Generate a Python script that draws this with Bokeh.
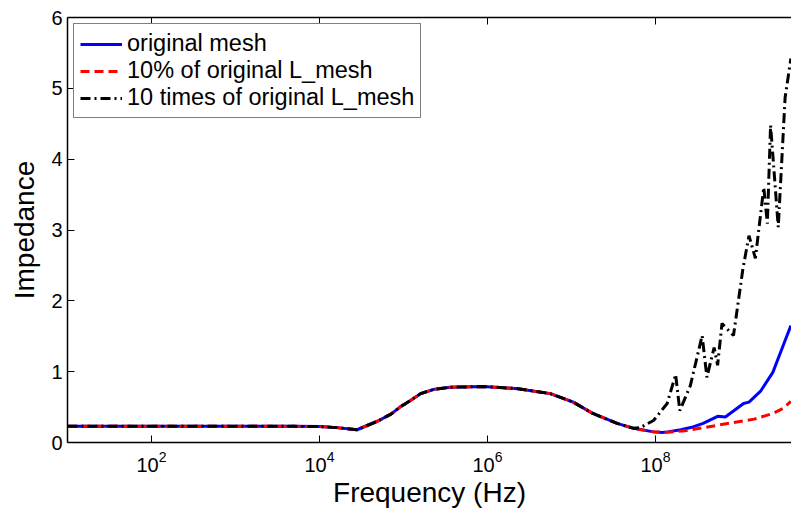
from bokeh.plotting import figure
from bokeh.models import FixedTicker, LogAxis, Range1d, Legend, LegendItem, ColumnDataSource
from bokeh.embed import file_html
from bokeh.resources import INLINE

# ---- data ----
# shared low/mid-frequency part of all three curves
freq_low = [10, 100, 1e3, 5e3, 1e4, 1.6e4, 2.8e4, 3.7e4, 4.9e4, 7.1e4, 9.1e4,
            1.2e5, 1.6e5, 2.3e5, 3.6e5, 8.9e5, 2.3e6, 5.6e6, 1.05e7, 1.8e7,
            3.5e7, 5.5e7]
z_low = [0.23, 0.23, 0.23, 0.228, 0.225, 0.21, 0.18, 0.24, 0.30, 0.40, 0.50,
         0.59, 0.69, 0.75, 0.78, 0.79, 0.76, 0.69, 0.57, 0.41,
         0.27, 0.20]

# high-frequency tails
freq_orig = [9.5e7, 1.2e8, 1.4e8, 2e8, 2.8e8, 3.7e8, 5.5e8, 6.8e8, 1.12e9, 1.3e9,
             1.8e9, 2.5e9, 3.5e9, 4.1e9]
z_orig = [0.15, 0.14, 0.15, 0.18, 0.22, 0.27, 0.37, 0.36, 0.55, 0.57,
          0.73, 0.99, 1.44, 1.65]

freq_10pct = [9.5e7, 1.4e8, 2.4e8, 5.9e8, 1.5e9, 2.5e9, 3.3e9, 4.1e9]
z_10pct = [0.15, 0.145, 0.17, 0.25, 0.33, 0.41, 0.48, 0.58]

freq_10x = [6.6e7, 9.5e7, 1.38e8, 1.74e8, 1.95e8, 2.6e8, 3.6e8, 4.1e8, 5.0e8,
            5.5e8, 6.2e8, 8.5e8, 1.1e9, 1.3e9, 1.55e9, 1.95e9, 2.15e9, 2.35e9,
            2.9e9, 3.5e9, 4.1e9]
z_10x = [0.21, 0.31, 0.55, 0.96, 0.45, 0.80, 1.51, 0.92, 1.34,
         1.09, 1.68, 1.51, 2.45, 2.92, 2.60, 3.60, 3.09, 4.48,
         3.04, 4.87, 5.42]

series_labels = ["original mesh", "10% of original L_mesh", "10 times of original L_mesh"]
x_ticks = [1e2, 1e4, 1e6, 1e8]
y_ticks = [0, 1, 2, 3, 4, 5, 6]

FONT = "Liberation Sans"

p = figure(width=791, height=512, x_axis_type="log",
           x_range=Range1d(10, 4.17e9), y_range=Range1d(0, 6),
           output_backend="svg", toolbar_location=None,
           min_border_left=67, min_border_right=0, min_border_top=17,
           min_border_bottom=70)
p.outline_line_color = None
p.xgrid.visible = False
p.ygrid.visible = False
p.background_fill_color = "white"
p.border_fill_color = "white"

src_o = ColumnDataSource(dict(f=freq_low + freq_orig, z=z_low + z_orig))
src_p = ColumnDataSource(dict(f=freq_low + freq_10pct, z=z_low + z_10pct))
src_x = ColumnDataSource(dict(f=freq_low + freq_10x, z=z_low + z_10x))

r_o = p.line("f", "z", source=src_o, line_color="#0000ff", line_width=3)
r_p = p.line("f", "z", source=src_p, line_color="#ff0000", line_width=3,
             line_dash="9 5")
r_x = p.line("f", "z", source=src_x, line_color="black", line_width=3,
             line_dash="10 4 2 4")

# bottom axis
xa = p.xaxis[0]
xa.ticker = FixedTicker(ticks=x_ticks)
xa.major_tick_in = 7
xa.major_tick_out = 0
xa.minor_tick_in = 0
xa.minor_tick_out = 0
xa.axis_line_width = 1.5
xa.major_tick_line_width = 1
xa.major_label_text_font = FONT
xa.major_label_text_font_size = "20px"
xa.major_label_text_color = "black"
xa.major_label_standoff = 8
xa.axis_label = "Frequency (Hz)"
xa.axis_label_text_font = FONT
xa.axis_label_text_font_size = "28px"
xa.axis_label_text_font_style = "normal"
xa.axis_label_text_color = "black"
xa.axis_label_standoff = 2

# left axis
ya = p.yaxis[0]
ya.ticker = FixedTicker(ticks=y_ticks)
ya.major_tick_in = 7
ya.major_tick_out = 0
ya.minor_tick_in = 0
ya.minor_tick_out = 0
ya.axis_line_width = 1.5
ya.major_label_text_font = FONT
ya.major_label_text_font_size = "20px"
ya.major_label_text_color = "black"
ya.major_label_standoff = 5
ya.axis_label = "Impedance"
ya.axis_label_text_font = FONT
ya.axis_label_text_font_size = "28px"
ya.axis_label_text_font_style = "normal"
ya.axis_label_text_color = "black"
ya.axis_label_standoff = 8

# top border with inward ticks, labels hidden
top = LogAxis(ticker=FixedTicker(ticks=x_ticks))
top.major_tick_in = 7
top.major_tick_out = 0
top.minor_tick_in = 0
top.minor_tick_out = 0
top.axis_line_width = 1.5
top.major_label_text_font_size = "2px"
top.major_label_text_color = None
top.major_label_standoff = 0
p.add_layout(top, "above")

legend = Legend(items=[LegendItem(label=series_labels[0], renderers=[r_o]),
                       LegendItem(label=series_labels[1], renderers=[r_p]),
                       LegendItem(label=series_labels[2], renderers=[r_x])],
                location="top_left")
legend.margin = 6
legend.padding = 6
legend.spacing = 0
legend.label_height = 22
legend.glyph_height = 22
legend.glyph_width = 42
legend.label_standoff = 5
legend.label_text_font = FONT
legend.label_text_font_size = "23.5px"
legend.label_text_color = "black"
legend.border_line_color = "black"
legend.border_line_width = 1
legend.background_fill_alpha = 1
p.add_layout(legend)

open("out.html", "w").write(file_html(p, INLINE))
